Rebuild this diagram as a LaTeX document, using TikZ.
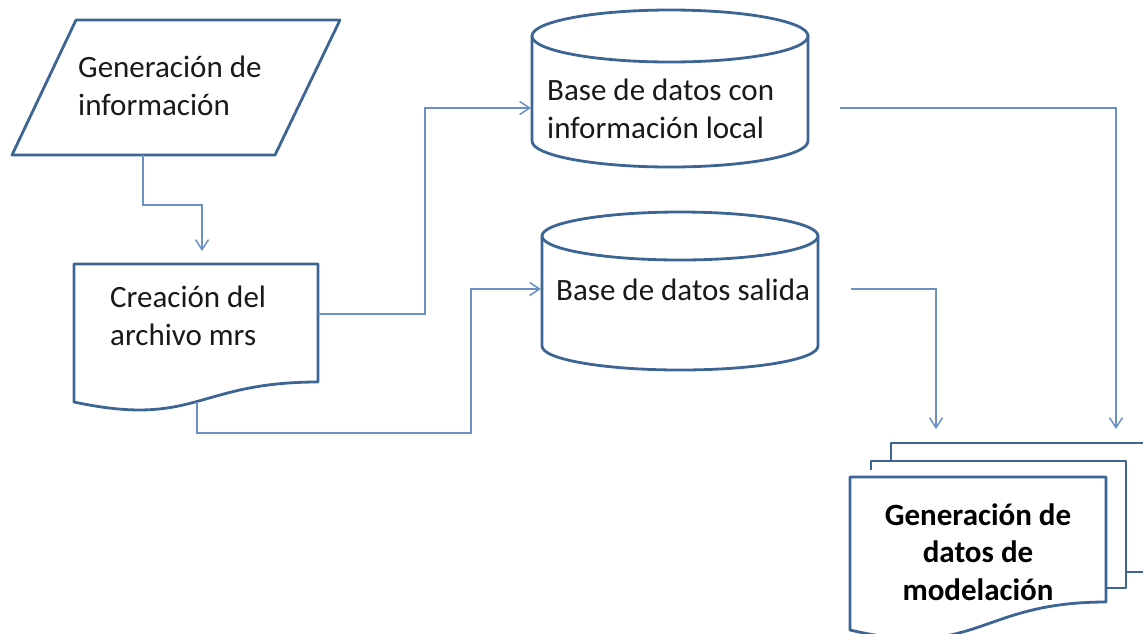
\documentclass[tikz,border=0pt]{standalone}
\usepackage{fontspec}
\setmainfont{Carlito}
\usetikzlibrary{arrows.meta}
\definecolor{shapeblue}{HTML}{3D6594}
\definecolor{linkblue}{HTML}{6B90C4}
\begin{document}
\begin{tikzpicture}[x=1pt,y=-1pt,
  shp/.style={draw=shapeblue,line width=2.8pt,fill=white,line join=round},
  link/.style={draw=linkblue,line width=1.5pt,-{Straight Barb[length=10pt,width=13pt]}},
  txt/.style={inner sep=0pt,anchor=base west,align=left,text=black!90,font=\fontsize{31}{37.5}\selectfont},
  btxt/.style={inner sep=0pt,anchor=base,align=center,text=black,font=\fontsize{31}{37.5}\selectfont\bfseries}]
\useasboundingbox (0,0) rectangle (1143,633);

% Parallelogram
\draw[shp] (76,20) -- (340,20) -- (275,155) -- (12,155) -- cycle;
\node[txt] (geninfo) at (78,115) {Generación de\\información};

% Document
\draw[shp] (74,264) -- (318,264) -- (318,382) .. controls (196,382) and (196,428) .. (74,402) -- cycle;
\node[txt] (creacion) at (110,345) {Creación del\\archivo mrs};

% Cylinder 1
\draw[shp] (532,36) -- (532,141) .. controls (532,155.4) and (593.8,167) .. (670,167) .. controls (746.2,167) and (808,155.4) .. (808,141) -- (808,36);
\draw[shp] (670,36) ellipse [x radius=138pt, y radius=26pt];
\node[txt] (bdlocal) at (547,138) {Base de datos con\\información local};

% Cylinder 2
\draw[shp] (542,236) -- (542,346) .. controls (542,359.3) and (603.8,370) .. (680,370) .. controls (756.2,370) and (818,359.3) .. (818,346) -- (818,236);
\draw[shp] (680,236) ellipse [x radius=138pt, y radius=24pt];
\node[txt] (bdsalida) at (556,300) {Base de datos salida};

% Multi-document
\draw[shp] (1126,572) -- (1170,572) -- (1170,443) -- (891,443) -- (891,470);
\draw[shp] (871,470) -- (871,461) -- (1126,461) -- (1126,588) -- (1100,588);
\draw[shp] (850,477) -- (1106,477) -- (1106,602) .. controls (978,602) and (978,660) .. (850,630) -- cycle;
\node[btxt] (genmod) at (978,600) {Generación de\\datos de\\modelación};

% ports
\coordinate (p1out) at (143,155);
\coordinate (d1in) at (202,251);
\coordinate (d1right) at (318,314);
\coordinate (d1bottom) at (197,402);
\coordinate (c1in) at (531,108);
\coordinate (c2in) at (541,289);
\coordinate (c1out) at (840,108);
\coordinate (c2out) at (851,289);
\coordinate (mdin1) at (936,429);
\coordinate (mdin2) at (1116,429);

% connectors
\draw[link] (p1out) -- ++(0,50) -| (d1in);
\draw[link] (d1right) -- ++(107,0) |- (c1in);
\draw[link] (d1bottom) -- ++(0,31) -- ++(274,0) |- (c2in);
\draw[link] (c1out) -| (mdin2);
\draw[link] (c2out) -| (mdin1);
\end{tikzpicture}
\end{document}
